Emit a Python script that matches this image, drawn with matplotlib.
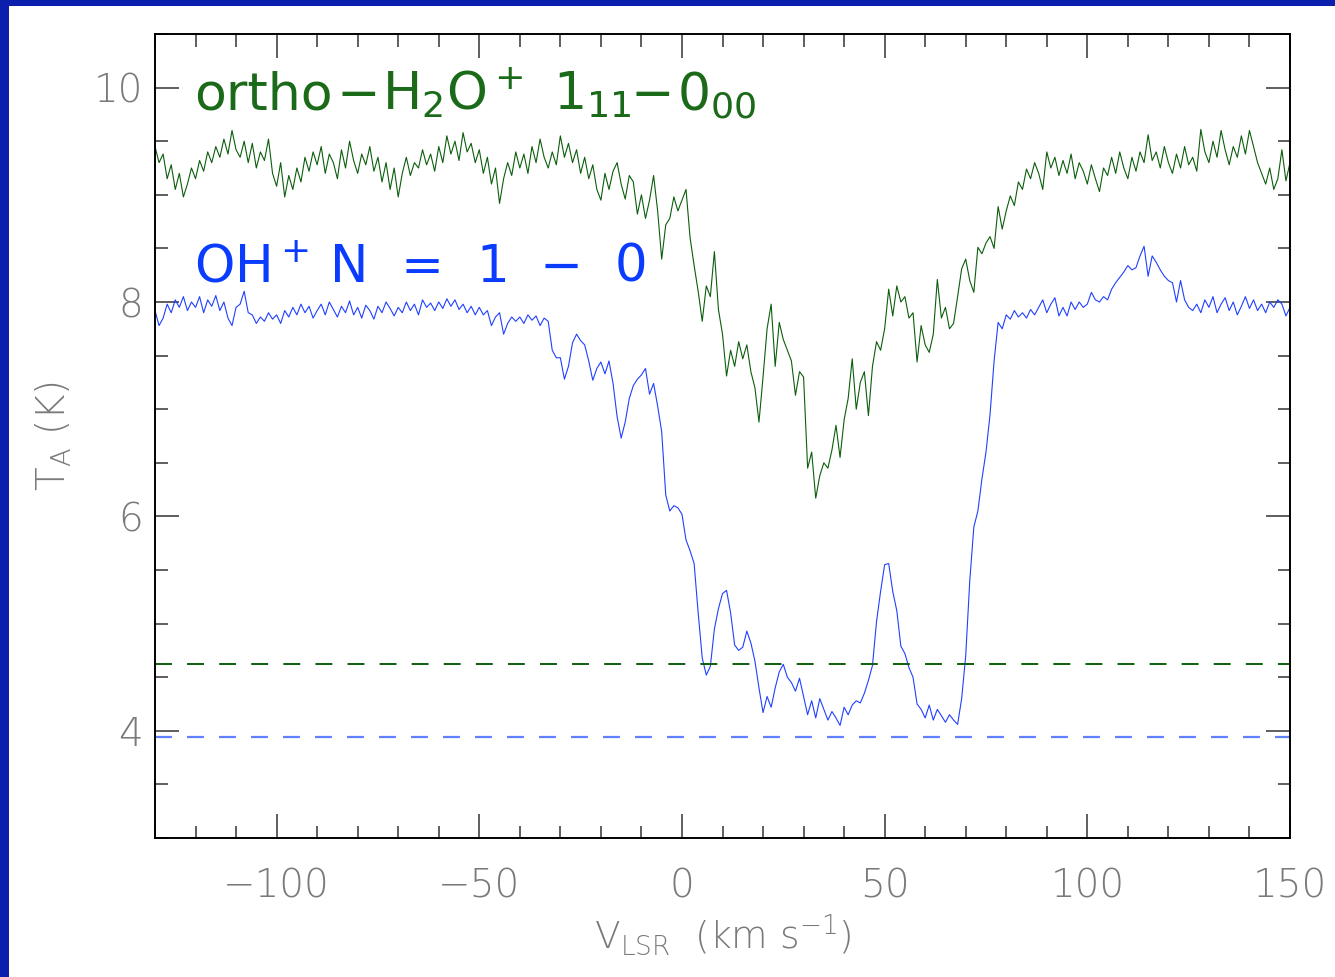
import numpy as np
import matplotlib
matplotlib.use("Agg")
import matplotlib.pyplot as plt
from matplotlib.patches import Rectangle
from matplotlib.ticker import MultipleLocator

# velocity grid (km/s)
v_start, v_stop = -130, 150
velocity = np.arange(v_start, v_stop + 1, 1)

# ortho-H2O+ 1_11-0_00 spectrum (K)
h2o_plus = [
    9.45, 9.30, 9.38, 9.15, 9.28, 9.05, 9.20, 8.98, 9.10, 9.25,
    9.15, 9.32, 9.22, 9.40, 9.30, 9.45, 9.35, 9.52, 9.38, 9.60,
    9.42, 9.35, 9.50, 9.30, 9.48, 9.25, 9.40, 9.32, 9.52, 9.20,
    9.08, 9.30, 8.98, 9.18, 9.05, 9.25, 9.12, 9.35, 9.22, 9.40,
    9.28, 9.45, 9.20, 9.38, 9.30, 9.15, 9.42, 9.25, 9.50, 9.32,
    9.20, 9.38, 9.28, 9.45, 9.22, 9.35, 9.12, 9.30, 9.05, 9.25,
    8.98, 9.20, 9.35, 9.18, 9.30, 9.25, 9.42, 9.28, 9.38, 9.22,
    9.45, 9.30, 9.55, 9.38, 9.50, 9.32, 9.58, 9.40, 9.48, 9.30,
    9.42, 9.20, 9.35, 9.10, 9.25, 8.92, 9.15, 9.30, 9.18, 9.40,
    9.25, 9.38, 9.20, 9.45, 9.30, 9.52, 9.35, 9.25, 9.40, 9.28,
    9.55, 9.35, 9.48, 9.30, 9.42, 9.20, 9.35, 9.15, 9.28, 9.05,
    8.95, 9.20, 9.05, 9.22, 9.30, 9.10, 8.96, 9.18, 9.12, 8.82,
    9.00, 8.78, 8.95, 9.18, 8.85, 8.40, 8.72, 8.78, 8.98, 8.85,
    8.95, 9.05, 8.60, 8.34, 8.10, 7.82, 8.15, 8.05, 8.47, 7.93,
    7.70, 7.31, 7.55, 7.40, 7.63, 7.47, 7.60, 7.35, 7.20, 6.88,
    7.30, 7.75, 7.98, 7.40, 7.81, 7.65, 7.55, 7.45, 7.13, 7.35,
    7.30, 6.45, 6.60, 6.17, 6.38, 6.50, 6.45, 6.62, 6.85, 6.55,
    6.90, 7.10, 7.47, 7.00, 7.25, 7.35, 6.94, 7.40, 7.63, 7.55,
    7.75, 8.12, 7.87, 8.15, 8.00, 8.05, 7.85, 7.90, 7.44, 7.78,
    7.60, 7.53, 7.70, 8.21, 7.85, 7.95, 7.75, 7.80, 8.05, 8.31,
    8.40, 8.20, 8.09, 8.51, 8.45, 8.55, 8.61, 8.50, 8.89, 8.68,
    8.85, 8.99, 8.90, 9.12, 9.05, 9.24, 9.15, 9.30, 9.20, 9.05,
    9.40, 9.25, 9.35, 9.18, 9.32, 9.20, 9.38, 9.15, 9.30, 9.22,
    9.10, 9.28, 9.15, 9.03, 9.25, 9.18, 9.35, 9.20, 9.40, 9.25,
    9.15, 9.35, 9.22, 9.40, 9.30, 9.56, 9.32, 9.40, 9.25, 9.45,
    9.30, 9.20, 9.38, 9.25, 9.45, 9.28, 9.35, 9.22, 9.61, 9.40,
    9.30, 9.50, 9.35, 9.60, 9.42, 9.28, 9.45, 9.35, 9.55, 9.38,
    9.60, 9.45, 9.30, 9.20, 9.10, 9.25, 9.05, 9.15, 9.42, 9.13,
    9.30,
]

# OH+ N=1-0 spectrum (K)
oh_plus = [
    7.92, 7.78, 7.85, 7.98, 7.90, 8.02, 7.95, 8.05, 7.92, 8.00,
    7.95, 8.05, 7.90, 8.02, 7.96, 8.06, 7.92, 8.00, 7.85, 7.78,
    7.95, 7.98, 8.10, 7.90, 7.88, 7.80, 7.86, 7.82, 7.90, 7.84,
    7.88, 7.80, 7.92, 7.86, 7.95, 7.88, 7.98, 7.90, 7.96, 7.85,
    7.92, 7.98, 7.88, 8.00, 7.93, 7.86, 7.96, 7.90, 8.01, 7.88,
    7.95, 7.85, 7.97, 7.92, 7.84, 7.96, 7.90, 8.00, 7.94, 7.87,
    7.95, 7.90, 8.00, 7.92, 7.98, 7.88, 8.02, 7.95, 7.99, 7.92,
    8.00, 7.94, 8.03, 7.96, 8.02, 7.93, 7.98, 7.90, 7.96, 7.88,
    7.95, 7.88, 7.92, 7.78, 7.86, 7.90, 7.70, 7.80, 7.86, 7.82,
    7.86, 7.80, 7.88, 7.83, 7.87, 7.78, 7.85, 7.82, 7.55, 7.48,
    7.48, 7.28, 7.40, 7.62, 7.70, 7.64, 7.60, 7.45, 7.27, 7.38,
    7.44, 7.33, 7.45, 7.24, 6.93, 6.73, 6.88, 7.10, 7.22, 7.28,
    7.32, 7.38, 7.14, 7.24, 7.03, 6.79, 6.20, 6.05, 6.10, 6.08,
    6.02, 5.78, 5.68, 5.56, 5.10, 4.68, 4.52, 4.60, 4.95, 5.14,
    5.28, 5.31, 5.10, 4.80, 4.75, 4.78, 4.93, 4.82, 4.65, 4.40,
    4.17, 4.32, 4.22, 4.40, 4.55, 4.62, 4.50, 4.45, 4.37, 4.49,
    4.32, 4.15, 4.28, 4.12, 4.30, 4.20, 4.10, 4.18, 4.12, 4.05,
    4.22, 4.15, 4.24, 4.28, 4.26, 4.35, 4.47, 4.61, 5.02, 5.30,
    5.55, 5.56, 5.30, 5.12, 4.79, 4.72, 4.59, 4.50, 4.25, 4.20,
    4.12, 4.24, 4.10, 4.20, 4.14, 4.08, 4.15, 4.10, 4.06, 4.30,
    4.70, 5.40, 5.90, 6.05, 6.35, 6.60, 6.95, 7.45, 7.81, 7.75,
    7.88, 7.84, 7.92, 7.86, 7.90, 7.85, 7.93, 7.88, 7.95, 8.02,
    7.90, 7.98, 8.04, 7.87, 7.95, 7.87, 8.00, 7.93, 8.00, 7.95,
    7.98, 8.09, 8.02, 8.00, 8.05, 8.02, 8.12, 8.18, 8.23, 8.28,
    8.34, 8.30, 8.32, 8.43, 8.52, 8.24, 8.43, 8.37, 8.30, 8.24,
    8.20, 8.18, 8.00, 8.20, 8.02, 7.95, 7.92, 7.98, 7.90, 8.02,
    7.95, 8.05, 7.90, 7.98, 8.04, 7.92, 8.00, 7.88, 7.96, 8.05,
    7.94, 8.02, 7.92, 7.98, 7.90, 8.00, 7.95, 8.02, 7.98, 7.87,
    7.95,
]

# reference levels (K)
h2o_level = 4.62
oh_level = 3.94

x_ticks = [-100, -50, 0, 50, 100, 150]
y_ticks = [4, 6, 8, 10]

# label pieces (text, left pixel position in figure)
h2o_label_parts = [("ortho", 194), ("\u2212", 336), (r"H$_2$O$^+$", 382),
                   (r"1$_{11}$", 553), ("\u2212", 631), (r"0$_{00}$", 677)]
oh_label_parts = [(r"OH$^+$", 194), ("N", 330), ("=", 400), ("1", 476),
                  ("\u2212", 540), ("0", 615)]

GREEN = "#0b5e0b"
BLUE = "#2040ff"
TEXT_GREEN = "#1a6a1a"
TEXT_BLUE = "#0a3cff"
GRAY = "#7a7a7a"
FRAME_BLUE = "#0a1fae"

plt.rcParams["font.family"] = ["DejaVu Sans"]
plt.rcParams["mathtext.fontset"] = "dejavusans"

W, H = 1335, 977
fig = plt.figure(figsize=(W / 100, H / 100), dpi=100, facecolor=FRAME_BLUE)
fig.patches.append(Rectangle((9 / W, 0), 1, 1 - 6 / H, transform=fig.transFigure,
                             facecolor="white", edgecolor="none", zorder=-10))

ax = fig.add_axes([155 / W, 1 - 838 / H, (1290 - 155) / W, (838 - 34) / H])
ax.set_facecolor("white")

ax.plot(velocity, h2o_plus, color=GREEN, lw=0.8)
ax.plot(velocity, oh_plus, color=BLUE, lw=0.8)
ax.axhline(h2o_level, color=GREEN, lw=1.4, linestyle=(0, (8.7, 7.8)))
ax.axhline(oh_level, color="#5f80ff", lw=1.6, linestyle=(0, (7.6, 6.8)))

ax.set_xlim(-130, 150)
ax.set_ylim(3.0, 10.5)
ax.set_xticks(x_ticks)
ax.set_xticklabels([str(t).replace("-", "\u2212") for t in x_ticks])
ax.set_yticks(y_ticks)
ax.xaxis.set_minor_locator(MultipleLocator(10))
ax.yaxis.set_minor_locator(MultipleLocator(0.5))
ax.tick_params(which="both", direction="in", top=True, right=True,
               color="#333333", width=1.1)
ax.tick_params(which="major", length=17)
ax.tick_params(which="minor", length=9)
ax.tick_params(axis="x", which="major", pad=21, labelsize=28, labelcolor=GRAY)
ax.tick_params(axis="y", which="major", pad=8.5, labelsize=28, labelcolor=GRAY)
for lab in ax.get_xticklabels() + ax.get_yticklabels():
    lab.set_fontweight(200)
for s in ax.spines.values():
    s.set_linewidth(1.4)
    s.set_color("black")

ax.set_xlabel(r"V$_{\mathregular{LSR}}$  (km s$^{\mathregular{-1}}$)", fontsize=27,
              color=GRAY, labelpad=5, fontweight=200)
ax.set_ylabel(r"T$_{\mathregular{A}}$ (K)", fontsize=28, color=GRAY, labelpad=14,
              fontweight=200)

for txt, px in h2o_label_parts:
    fig.text(px / W, 1 - 110 / H, txt, fontsize=37.5, color=TEXT_GREEN,
             va="baseline", ha="left")
for txt, px in oh_label_parts:
    fig.text(px / W, 1 - 282 / H, txt, fontsize=37, color=TEXT_BLUE,
             va="baseline", ha="left")

fig.savefig("out.png", dpi=100, facecolor=fig.get_facecolor())
